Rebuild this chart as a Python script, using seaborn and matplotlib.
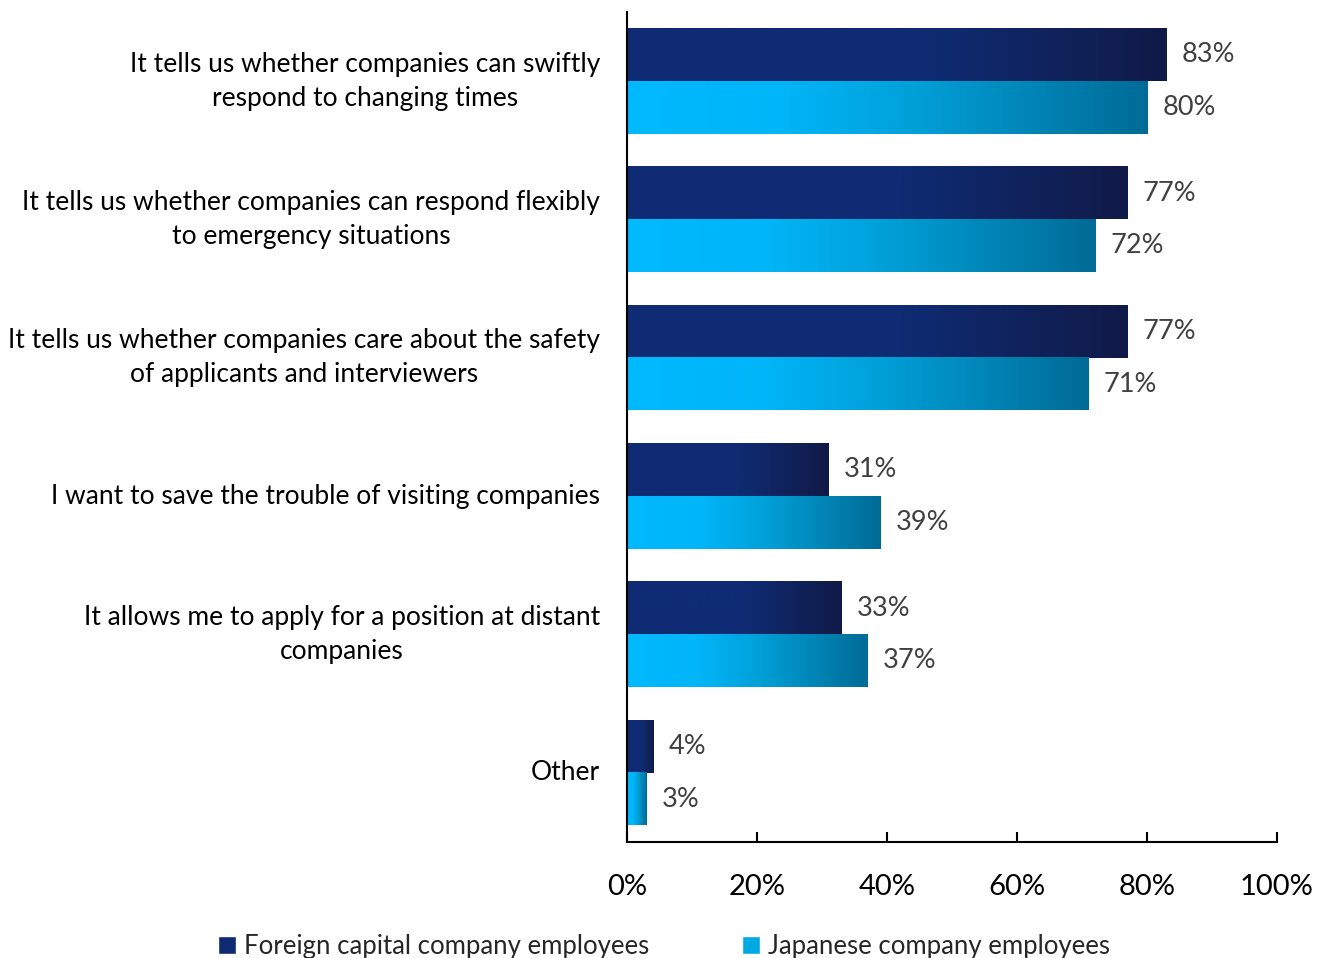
import numpy as np
import pandas as pd
import seaborn as sns
import matplotlib.pyplot as plt
from matplotlib.colors import LinearSegmentedColormap
from matplotlib.patches import Patch
from matplotlib.transforms import offset_copy

categories = [
    "It tells us whether companies can swiftly\nrespond to changing times",
    "It tells us whether companies can respond flexibly\nto emergency situations",
    "It tells us whether companies care about the safety\nof applicants and interviewers",
    "I want to save the trouble of visiting companies",
    "It allows me to apply for a position at distant\ncompanies",
    "Other",
]
series_names = ["Foreign capital company employees", "Japanese company employees"]
foreign_values = [83, 77, 77, 31, 33, 4]
japanese_values = [80, 72, 71, 39, 37, 3]
x_ticks = [0, 20, 40, 60, 80, 100]

df = pd.DataFrame({
    "category": categories * 2,
    "group": [series_names[0]] * len(categories) + [series_names[1]] * len(categories),
    "value": foreign_values + japanese_values,
})

sns.set_theme(style="white")
plt.rcParams["font.family"] = ["Lato", "DejaVu Sans"]

fig = plt.figure(figsize=(13.28, 9.58), dpi=100)
ax = fig.add_axes([0.4721, 0.1211, 0.4895, 0.8664])

palette = {series_names[0]: "#0f2a70", series_names[1]: "#00b0f0"}
sns.barplot(data=df, y="category", x="value", hue="group", order=categories,
            hue_order=series_names, palette=palette, width=0.76, orient="h",
            ax=ax, legend=False, saturation=1)

# horizontal gradients for each series
grad_maps = {
    0: LinearSegmentedColormap.from_list(
        "navy", [(0.0, "#0e2b74"), (0.55, "#0e2c73"), (1.0, "#111a48")]),
    1: LinearSegmentedColormap.from_list(
        "sky", [(0.0, "#00b9ff"), (0.3, "#00b5f8"), (0.55, "#00a0d8"), (1.0, "#006b96")]),
}
ramp = np.linspace(0, 1, 256).reshape(1, -1)
for i, cont in enumerate(ax.containers):
    for bar in cont:
        x0, y0 = bar.get_x(), bar.get_y()
        w, h = bar.get_width(), bar.get_height()
        bar.set_facecolor("none")
        bar.set_edgecolor("none")
        ax.imshow(ramp, cmap=grad_maps[i], aspect="auto",
                  extent=[x0, x0 + w, y0 + h, y0], zorder=2,
                  interpolation="bilinear")
    ax.bar_label(cont, fmt="{:.0f}%", padding=11, fontsize=19.5, color="#404040")

ax.set_xlim(0, 100)
ax.set_ylim(len(categories) - 0.5, -0.5)
ax.set_xticks(x_ticks)
ax.set_xticklabels([f"{t}%" for t in x_ticks])
ax.set_xlabel("")
ax.set_ylabel("")

for side in ["top", "right"]:
    ax.spines[side].set_visible(False)
for side in ["left", "bottom"]:
    ax.spines[side].set_color("black")
    ax.spines[side].set_linewidth(1.5)

ax.tick_params(axis="x", direction="in", length=7, width=1.5, color="black",
               labelsize=21, labelcolor="black", pad=23, bottom=True)
ax.tick_params(axis="y", length=0, labelleft=False)

# category labels, centred line by line, right of each block at the axis gap
ytrans = offset_copy(ax.get_yaxis_transform(), fig, x=-27, y=0, units="dots")
for i, cat in enumerate(categories):
    ax.text(0, i, cat, transform=ytrans,
            ha="right", va="center", multialignment="center", linespacing=1.45,
            fontsize=19, color="black")

handles = [Patch(facecolor="#0f2a70"), Patch(facecolor="#00a8e4")]
fig.legend(handles, series_names, loc="center", bbox_to_anchor=(0.5, 0.0125),
           ncol=2, frameon=False, fontsize=18.5, handlelength=0.7, handleheight=0.7,
           handletextpad=0.3, columnspacing=3.6)

fig.savefig("out.png", dpi=100)
